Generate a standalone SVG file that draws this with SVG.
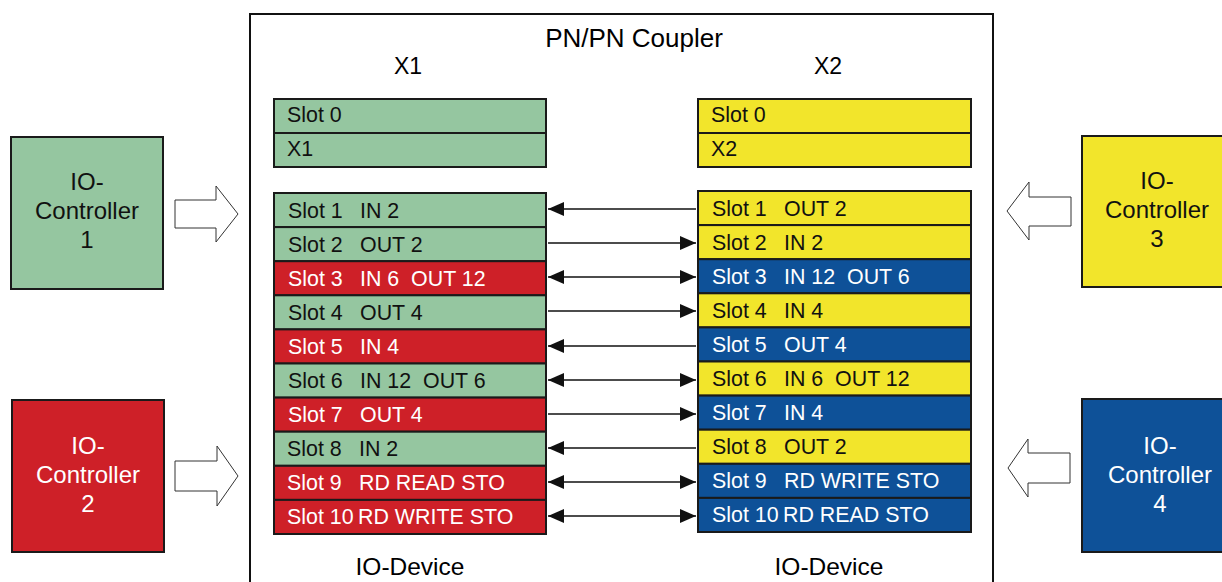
<svg xmlns="http://www.w3.org/2000/svg" width="1222" height="582" viewBox="0 0 1222 582">
<defs>
<style>
text{font-family:"Liberation Sans",Arial,sans-serif;}
.t{font-size:21.4px;white-space:pre;}
.big{font-size:23px;}
.title{font-size:26px;}
.dev{font-size:24.5px;}
.ctl{font-size:24px;text-anchor:middle;}
.g{fill:#95c6a0;}
.r{fill:#ce2028;}
.y{fill:#f2e52b;}
.b{fill:#0e5198;}
.row{stroke:#1a1a1a;stroke-width:2;}
.dk{fill:#111;}
.wh{fill:#fff;}
.blk{fill:#fff;stroke:#333;stroke-width:1;}
.ln{stroke:#111;stroke-width:1.5;fill:none;}
</style>
<marker id="ah" viewBox="0 0 16 14" refX="16" refY="7" markerWidth="16" markerHeight="14" markerUnits="userSpaceOnUse" orient="auto-start-reverse">
<path d="M0,0 L16,7 L0,14 Z" fill="#111"/>
</marker>
</defs>
<rect width="1222" height="582" fill="#fff"/>

<g id="coupler">
<rect x="250" y="14" width="743" height="600" fill="none" stroke="#111" stroke-width="2"/>
<text class="title" x="634" y="47" text-anchor="middle">PN/PN Coupler</text>
<text class="big" x="408" y="74" text-anchor="middle">X1</text>
<text class="big" x="828" y="74" text-anchor="middle">X2</text>
<text class="dev" x="410" y="575" text-anchor="middle">IO-Device</text>
<text class="dev" x="829" y="575" text-anchor="middle">IO-Device</text>
</g>

<g id="x1-head">
<rect class="g row" x="274" y="99" width="272" height="34"/>
<rect class="g row" x="274" y="133" width="272" height="34"/>
<text class="t dk" x="287" y="122">Slot 0</text>
<text class="t dk" x="287" y="156">X1</text>
</g>
<g id="x2-head">
<rect class="y row" x="698" y="99" width="273" height="34"/>
<rect class="y row" x="698" y="133" width="273" height="34"/>
<text class="t dk" x="711" y="122">Slot 0</text>
<text class="t dk" x="711" y="156">X2</text>
</g>

<g id="x1-slots">
<rect class="g row" x="274" y="193" width="272" height="34.1"/>
<rect class="g row" x="274" y="227.1" width="272" height="34.1"/>
<rect class="r row" x="274" y="261.2" width="272" height="34.1"/>
<rect class="g row" x="274" y="295.3" width="272" height="34.1"/>
<rect class="r row" x="274" y="329.4" width="272" height="34.1"/>
<rect class="g row" x="274" y="363.5" width="272" height="34.1"/>
<rect class="r row" x="274" y="397.6" width="272" height="34.1"/>
<rect class="g row" x="274" y="431.7" width="272" height="34.1"/>
<rect class="r row" x="274" y="465.8" width="272" height="34.1"/>
<rect class="r row" x="274" y="499.9" width="272" height="34.1"/>
<text class="t dk" x="288" y="218">Slot 1<tspan x="360">IN 2</tspan></text>
<text class="t dk" x="288" y="252">Slot 2<tspan x="360">OUT 2</tspan></text>
<text class="t wh" x="288" y="286">Slot 3<tspan x="360">IN 6  OUT 12</tspan></text>
<text class="t dk" x="288" y="320">Slot 4<tspan x="360">OUT 4</tspan></text>
<text class="t wh" x="288" y="354">Slot 5<tspan x="360">IN 4</tspan></text>
<text class="t dk" x="288" y="388">Slot 6<tspan x="360">IN 12  OUT 6</tspan></text>
<text class="t wh" x="288" y="422">Slot 7<tspan x="360">OUT 4</tspan></text>
<text class="t dk" x="287" y="456">Slot 8<tspan x="359">IN 2</tspan></text>
<text class="t wh" x="287" y="490">Slot 9<tspan x="359">RD READ STO</tspan></text>
<text class="t wh" x="287" y="524">Slot 10<tspan x="358">RD WRITE STO</tspan></text>
</g>

<g id="x2-slots">
<rect class="y row" x="698" y="191" width="273" height="34.1"/>
<rect class="y row" x="698" y="225.1" width="273" height="34.1"/>
<rect class="b row" x="698" y="259.2" width="273" height="34.1"/>
<rect class="y row" x="698" y="293.3" width="273" height="34.1"/>
<rect class="b row" x="698" y="327.4" width="273" height="34.1"/>
<rect class="y row" x="698" y="361.5" width="273" height="34.1"/>
<rect class="b row" x="698" y="395.6" width="273" height="34.1"/>
<rect class="y row" x="698" y="429.7" width="273" height="34.1"/>
<rect class="b row" x="698" y="463.8" width="273" height="34.1"/>
<rect class="b row" x="698" y="497.9" width="273" height="34.1"/>
<text class="t dk" x="712" y="216">Slot 1<tspan x="784">OUT 2</tspan></text>
<text class="t dk" x="712" y="250">Slot 2<tspan x="784">IN 2</tspan></text>
<text class="t wh" x="712" y="284">Slot 3<tspan x="784">IN 12  OUT 6</tspan></text>
<text class="t dk" x="712" y="318">Slot 4<tspan x="784">IN 4</tspan></text>
<text class="t wh" x="712" y="352">Slot 5<tspan x="784">OUT 4</tspan></text>
<text class="t dk" x="712" y="386">Slot 6<tspan x="784">IN 6  OUT 12</tspan></text>
<text class="t wh" x="712" y="420">Slot 7<tspan x="784">IN 4</tspan></text>
<text class="t dk" x="712" y="454">Slot 8<tspan x="784">OUT 2</tspan></text>
<text class="t wh" x="712" y="488">Slot 9<tspan x="784">RD WRITE STO</tspan></text>
<text class="t wh" x="712" y="522">Slot 10<tspan x="783">RD READ STO</tspan></text>
</g>

<g id="ctrl1">
<rect class="g row" x="11" y="137" width="152" height="152"/>
<text class="ctl dk" x="87" y="190">IO-</text>
<text class="ctl dk" x="87" y="219">Controller</text>
<text class="ctl dk" x="87" y="248">1</text>
</g>
<g id="ctrl2">
<rect class="r row" x="12" y="400" width="152" height="152"/>
<text class="ctl wh" x="88" y="454">IO-</text>
<text class="ctl wh" x="88" y="483">Controller</text>
<text class="ctl wh" x="88" y="512">2</text>
</g>
<g id="ctrl3">
<rect class="y row" x="1082" y="136" width="150" height="151"/>
<text class="ctl dk" x="1157" y="189">IO-</text>
<text class="ctl dk" x="1157" y="218">Controller</text>
<text class="ctl dk" x="1157" y="247">3</text>
</g>
<g id="ctrl4">
<rect class="b row" x="1082" y="399" width="150" height="153"/>
<text class="ctl wh" x="1160" y="454">IO-</text>
<text class="ctl wh" x="1160" y="483">Controller</text>
<text class="ctl wh" x="1160" y="512">4</text>
</g>

<g id="block-arrows">
<path class="blk" d="M175,200 H216 V186 L238,214 L216,242 V228 H175 Z"/>
<path class="blk" d="M175,461 H217 V446 L238,476 L217,506 V491 H175 Z"/>
<path class="blk" d="M1071,197 H1029 V182 L1007,211 L1029,240 V226 H1071 Z"/>
<path class="blk" d="M1070,453 H1028 V439 L1008,468 L1028,497 V483 H1070 Z"/>
</g>

<g id="connectors">
<line class="ln" x1="696" y1="209" x2="548" y2="209" marker-end="url(#ah)"/>
<line class="ln" x1="548" y1="243" x2="696" y2="243" marker-end="url(#ah)"/>
<line class="ln" x1="548" y1="277" x2="696" y2="277" marker-start="url(#ah)" marker-end="url(#ah)"/>
<line class="ln" x1="548" y1="311" x2="696" y2="311" marker-end="url(#ah)"/>
<line class="ln" x1="696" y1="346" x2="548" y2="346" marker-end="url(#ah)"/>
<line class="ln" x1="548" y1="380" x2="696" y2="380" marker-start="url(#ah)" marker-end="url(#ah)"/>
<line class="ln" x1="548" y1="414" x2="696" y2="414" marker-end="url(#ah)"/>
<line class="ln" x1="696" y1="448" x2="548" y2="448" marker-end="url(#ah)"/>
<line class="ln" x1="548" y1="482" x2="696" y2="482" marker-start="url(#ah)" marker-end="url(#ah)"/>
<line class="ln" x1="548" y1="516" x2="696" y2="516" marker-start="url(#ah)" marker-end="url(#ah)"/>
</g>
</svg>
